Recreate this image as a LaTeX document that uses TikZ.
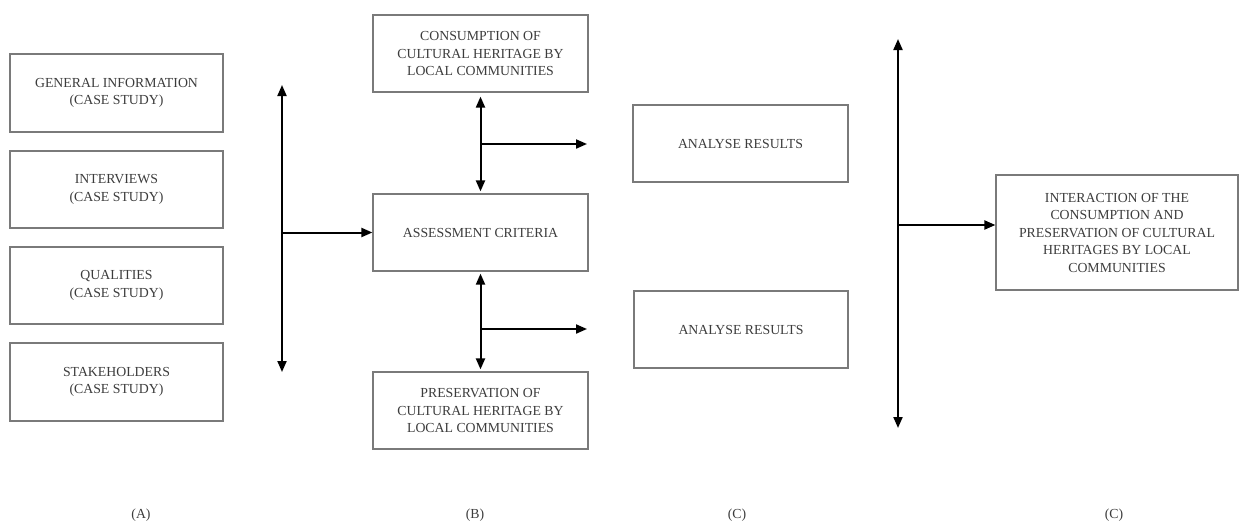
\documentclass[tikz,border=0pt]{standalone}
\usepackage{fontspec}
\setmainfont{Liberation Serif}
\usetikzlibrary{arrows.meta}
\definecolor{boxgray}{HTML}{7A7A7A}
\definecolor{txtgray}{HTML}{3C3C3C}
\begin{document}
\begin{tikzpicture}[x=1pt,y=-1pt,
  box/.style={draw=boxgray,line width=1.2pt,text=txtgray,align=center,
    font=\fontsize{13.8}{17.5}\selectfont,inner sep=0pt,
    minimum width=#1},
  box/.default=215pt,
  arr/.style={line width=2pt,-{Triangle[length=11pt,width=9pt]}},
  darr/.style={line width=2pt,{Triangle[length=11pt,width=9pt]}-{Triangle[length=11pt,width=9pt]}},
  lab/.style={text=txtgray,font=\fontsize{13.8}{17.5}\selectfont,inner sep=0pt}]
\useasboundingbox (0,0) rectangle (1239,525);

% column A
\node[box=213pt,minimum height=78pt] (gen) at (116.5,93) {GENERAL INFORMATION\\(CASE STUDY)};
\node[box=213pt,minimum height=77pt] (int) at (116.5,189.5) {INTERVIEWS\\(CASE STUDY)};
\node[box=213pt,minimum height=77pt] (qual) at (116.5,285.5) {QUALITIES\\(CASE STUDY)};
\node[box=213pt,minimum height=78pt] (stake) at (116.5,382) {STAKEHOLDERS\\(CASE STUDY)};

% column B
\node[box,minimum height=77pt] (cons) at (480.5,53.5) {CONSUMPTION OF\\CULTURAL HERITAGE BY\\LOCAL COMMUNITIES};
\node[box,minimum height=77pt] (assess) at (480.5,232.5) {ASSESSMENT CRITERIA};
\node[box,minimum height=77pt] (pres) at (480.5,410.5) {PRESERVATION OF\\CULTURAL HERITAGE BY\\LOCAL COMMUNITIES};

% column C
\node[box,minimum height=77pt] (an1) at (740.5,143.5) {ANALYSE RESULTS};
\node[box=214pt,minimum height=77pt] (an2) at (741,329.5) {ANALYSE RESULTS};

% right box
\node[box=242pt,minimum height=115pt] (inter) at (1117,232.5) {INTERACTION OF THE\\CONSUMPTION AND\\PRESERVATION OF CULTURAL\\HERITAGES BY LOCAL\\COMMUNITIES};

% left arrows
\coordinate (lt) at (282,85);
\coordinate (lb) at (282,372);
\coordinate (lm) at (282,232.5);
\draw[darr] (lt) -- (lb);
\draw[arr] (lm) -- (lm -| assess.west);

% middle arrows
\draw[darr,shorten <=4pt,shorten >=2pt] (cons.south) -- (assess.north);
\coordinate (ub) at (480.5,144);
\coordinate (ue) at (587,144);
\draw[arr] (ub) -- (ue);
\draw[darr,shorten <=2pt,shorten >=2pt] (assess.south) -- (pres.north);
\coordinate (lb2) at (480.5,329);
\coordinate (le2) at (587,329);
\draw[arr] (lb2) -- (le2);

% right arrows
\coordinate (rt) at (898,39);
\coordinate (rb) at (898,428);
\coordinate (rm) at (898,225);
\draw[darr] (rt) -- (rb);
\draw[arr] (rm) -- (rm -| inter.west);

% labels
\node[lab] (la) at (141,515) {(A)};
\node[lab] (lbb) at (475,515) {(B)};
\node[lab] (lc1) at (737,515) {(C)};
\node[lab] (lc2) at (1114,515) {(C)};
\end{tikzpicture}
\end{document}
